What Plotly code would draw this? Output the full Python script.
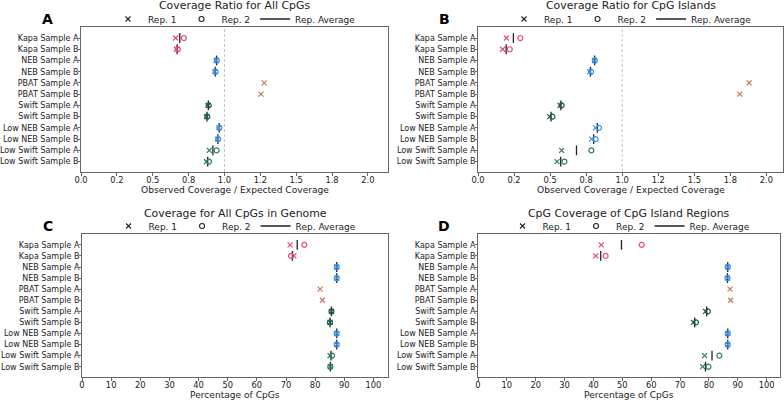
import plotly.graph_objects as go
from plotly.subplots import make_subplots

samples = ["Kapa Sample A", "Kapa Sample B", "NEB Sample A", "NEB Sample B",
           "PBAT Sample A", "PBAT Sample B", "Swift Sample A", "Swift Sample B",
           "Low NEB Sample A", "Low NEB Sample B", "Low Swift Sample A", "Low Swift Sample B"]
colors = ["#e8457f", "#e8457f", "#3b8ee3", "#3b8ee3", "#c8775a", "#c8775a",
          "#1e5a48", "#1e5a48", "#3b8ee3", "#3b8ee3", "#2e7a66", "#2e7a66"]

# PBAT has a single replicate (None = not measured)
a_rep1 = [0.66, 0.665, 0.943, 0.934, 1.277, 1.255, 0.886, 0.876, 0.961, 0.952, 0.894, 0.874]
a_rep2 = [0.717, 0.675, 0.947, 0.938, None, None, 0.890, 0.880, 0.965, 0.956, 0.945, 0.892]
b_rep1 = [0.197, 0.171, 0.808, 0.775, 1.88, 1.815, 0.569, 0.497, 0.816, 0.788, 0.58, 0.548]
b_rep2 = [0.294, 0.22, 0.810, 0.784, None, None, 0.58, 0.516, 0.839, 0.816, 0.786, 0.599]
c_rep1 = [71.4, 72.7, 87.4, 87.4, 81.7, 82.5, 85.6, 85.1, 87.4, 87.4, 85.1, 85.2]
c_rep2 = [76.3, 71.7, 87.4, 87.4, None, None, 85.6, 85.1, 87.4, 87.4, 85.8, 85.2]
d_rep1 = [42.7, 40.8, 86.5, 86.4, 87.3, 87.5, 78.8, 74.6, 86.5, 86.5, 78.5, 77.8]
d_rep2 = [56.7, 44.2, 86.5, 86.4, None, None, 79.6, 75.5, 86.5, 86.5, 83.6, 79.8]

ratio_ticks = [0, 0.25, 0.5, 0.75, 1.0, 1.25, 1.5, 1.75, 2.0]
ratio_labels = ["0.0", "0.2", "0.5", "0.8", "1.0", "1.2", "1.5", "1.8", "2.0"]
pct_ticks = list(range(0, 101, 10))

titles = ["Coverage Ratio for All CpGs", "Coverage Ratio for CpG Islands",
          "Coverage for All CpGs in Genome", "CpG Coverage of CpG Island Regions"]
letters = ["A", "B", "C", "D"]
xtitles = ["Observed Coverage / Expected Coverage"] * 2 + ["Percentage of CpGs"] * 2

FONT = "DejaVu Sans"
W, H = 784, 401
# plot boxes in pixels: (left, right, top, bottom)
boxes = [(81, 388, 27, 172), (478, 783, 27, 172), (82, 388, 234, 377), (478, 780, 234, 377)]
xranges = [[0, 2.14], [0, 2.115], [0, 105], [0, 104.6]]

fig = make_subplots(rows=2, cols=2)
data = [(a_rep1, a_rep2), (b_rep1, b_rep2), (c_rep1, c_rep2), (d_rep1, d_rep2)]

for k, (r1, r2) in enumerate(data):
    row, col = k // 2 + 1, k % 2 + 1
    lg = "legend" if k == 0 else "legend%d" % (k + 1)
    avg = [None if v2 is None else (v1 + v2) / 2 for v1, v2 in zip(r1, r2)]
    fig.add_trace(go.Scatter(
        x=avg, y=samples, mode="markers", showlegend=False, hoverinfo="skip",
        marker=dict(symbol="line-ns-open", size=7, color="#222222", line=dict(width=1.3))
    ), row=row, col=col)
    fig.add_trace(go.Scatter(
        x=r1, y=samples, mode="markers", showlegend=False,
        marker=dict(symbol="x-thin-open", size=5, color=colors, line=dict(width=1.2))
    ), row=row, col=col)
    fig.add_trace(go.Scatter(
        x=r2, y=samples, mode="markers", showlegend=False,
        marker=dict(symbol="circle-open", size=5, color=colors, line=dict(width=1.2))
    ), row=row, col=col)
    # legend entries
    fig.add_trace(go.Scatter(x=[None], y=[None], mode="markers", name="Rep. 1", legend=lg,
                             marker=dict(symbol="x-thin-open", size=5, color="#222",
                                         line=dict(width=1.1))),
                  row=row, col=col)
    fig.add_trace(go.Scatter(x=[None], y=[None], mode="markers", name="Rep. 2", legend=lg,
                             marker=dict(symbol="circle-open", size=5, color="#222",
                                         line=dict(width=1.1))),
                  row=row, col=col)
    fig.add_trace(go.Scatter(x=[None], y=[None], mode="lines", name="Rep. Average", legend=lg,
                             line=dict(color="#222", width=1.4)),
                  row=row, col=col)

layout = dict(width=W, height=H, margin=dict(l=0, r=0, t=0, b=0),
              plot_bgcolor="white", paper_bgcolor="white",
              font=dict(family=FONT, size=9, color="#222"))
annotations = []
shapes = []
for k in range(4):
    l, r, t, b = boxes[k]
    suf = "" if k == 0 else str(k + 1)
    xa = dict(domain=[l / W, r / W], range=xranges[k], showline=True, mirror=True,
              linecolor="#666", linewidth=1, ticks="outside", ticklen=3, tickcolor="#666",
              showgrid=False, zeroline=False, tickfont=dict(size=8.3), automargin=False,
              ticklabelstandoff=-3)
    if k < 2:
        xa.update(tickvals=ratio_ticks, ticktext=ratio_labels)
    else:
        xa.update(tickvals=pct_ticks)
    ya = dict(domain=[1 - b / H, 1 - t / H], range=[11.93, -0.98], showline=True, mirror=True,
              linecolor="#666", linewidth=1, ticks="outside", ticklen=2, tickcolor="#666",
              showgrid=False, zeroline=False, tickfont=dict(size=8.0), automargin=False,
              ticklabelstandoff=-2)
    layout["xaxis" + suf] = xa
    layout["yaxis" + suf] = ya
    cx = (l + r) / 2 / W
    annotations.append(dict(text=titles[k], x=cx, y=1 - (t - 21) / H, xref="paper", yref="paper",
                            showarrow=False, font=dict(size=10.9), xanchor="center", yanchor="middle"))
    annotations.append(dict(text=xtitles[k], x=cx, y=1 - (b + 17.5) / H, xref="paper", yref="paper",
                            showarrow=False, font=dict(size=9.1), xanchor="center", yanchor="middle"))
    annotations.append(dict(text="<b>%s</b>" % letters[k], x=(l - 34) / W, y=1 - (t - 8) / H,
                            xref="paper", yref="paper", showarrow=False,
                            font=dict(size=14, color="black"), xanchor="center", yanchor="middle"))
    layout["legend" + ("" if k == 0 else str(k + 1))] = dict(
        orientation="h", x=cx, y=1 - (t - 8) / H, xanchor="center", yanchor="middle",
        bgcolor="rgba(0,0,0,0)", font=dict(size=9), tracegroupgap=0)
    if k < 2:
        shapes.append(dict(type="line", xref="x" + suf, yref="y" + suf + " domain",
                           x0=1, x1=1, y0=0, y1=1, line=dict(color="#c4c4c4", width=1, dash="3px,2px")))
layout["annotations"] = annotations
layout["shapes"] = shapes
fig.update_layout(**layout)

# drop the browser's default 8px body margin so the figure fills the window
fig.write_html("out.html", config={"displayModeBar": False},
               post_script="document.body.style.margin = '0';")
